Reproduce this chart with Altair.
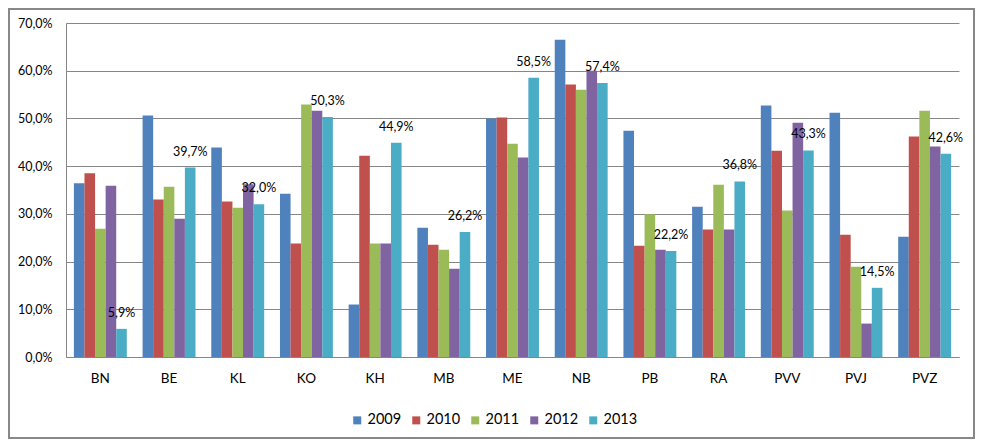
import altair as alt
import pandas as pd

cats = ["BN", "BE", "KL", "KO", "KH", "MB", "ME", "NB", "PB", "RA", "PVV", "PVJ", "PVZ"]
years = ["2009", "2010", "2011", "2012", "2013"]
colors = ["#4F81BD", "#C0504D", "#9BBB59", "#8064A2", "#4BACC6"]

v2009 = [36.4, 50.6, 43.9, 34.2, 11.0, 27.1, 50.0, 66.5, 47.4, 31.5, 52.7, 51.2, 25.2]
v2010 = [38.5, 33.0, 32.6, 23.8, 42.2, 23.5, 50.2, 57.1, 23.3, 26.7, 43.2, 25.6, 46.2]
v2011 = [26.9, 35.7, 31.3, 52.9, 23.8, 22.5, 44.7, 56.0, 29.9, 36.1, 30.7, 18.9, 51.6]
v2012 = [35.9, 29.0, 36.2, 51.6, 23.8, 18.5, 41.8, 60.0, 22.5, 26.7, 49.1, 7.0, 44.1]
v2013 = [5.9, 39.7, 32.0, 50.3, 44.9, 26.2, 58.5, 57.4, 22.2, 36.8, 43.3, 14.5, 42.6]

series = [v2009, v2010, v2011, v2012, v2013]
rows = []
for y, vals in zip(years, series):
    for c, v in zip(cats, vals):
        rows.append({"cat": c, "year": y, "value": v})
df = pd.DataFrame(rows)

W, H = 893, 334
PAD = {"left": 58, "top": 15, "right": 16, "bottom": 82}

x_enc = alt.X("cat:N", sort=cats, title=None,
              scale=alt.Scale(paddingInner=0.23, paddingOuter=0.115),
              axis=alt.Axis(ticks=False, tickSize=0, labelPadding=14, labelAngle=0,
                            labelFontSize=13.5, labelColor="#000000",
                            domainColor="#868686", grid=False))
xoff = alt.XOffset("year:N", sort=years, scale=alt.Scale(paddingInner=0, paddingOuter=0))
y_enc = alt.Y("value:Q", title=None,
              scale=alt.Scale(domain=[0, 70], nice=False),
              axis=alt.Axis(values=[0, 10, 20, 30, 40, 50, 60, 70], ticks=False, tickSize=0,
                            labelPadding=14, labelFontSize=12.5, labelColor="#000000",
                            domainColor="#868686", gridColor="#868686", grid=True,
                            labelExpr="replace(format(datum.value, '.1f'), '.', ',') + '%'"))

bars = alt.Chart(df).mark_bar(size=10.6).encode(
    x=x_enc,
    xOffset=xoff,
    y=y_enc,
    color=alt.Color("year:N", sort=years, title=None,
                    scale=alt.Scale(domain=years, range=colors),
                    legend=alt.Legend(orient="none", direction="horizontal",
                                      legendX=284, legendY=390,
                                      symbolType="square", symbolSize=64,
                                      symbolStrokeWidth=0, labelFontSize=14.5,
                                      labelColor="#000000", columnPadding=7,
                                      labelOffset=3)),
)

labels = alt.Chart(df).transform_filter(
    alt.datum.year == "2013"
).transform_calculate(
    label="replace(format(datum.value, '.1f'), '.', ',') + '%'"
).mark_text(baseline="alphabetic", dy=-12, fontSize=12.5, color="#000000").encode(
    x=alt.X("cat:N", sort=cats),
    xOffset=alt.XOffset("year:N", sort=years),
    y=alt.Y("value:Q"),
    text="label:N",
)

frame = alt.Chart(alt.Data(values=[{}])).mark_rect(
    fill=None, stroke="#888888", strokeWidth=2
).encode(
    x=alt.value(-PAD["left"] + 1), x2=alt.value(W + PAD["right"] - 1),
    y=alt.value(-PAD["top"] + 1), y2=alt.value(H + PAD["bottom"] - 1),
)

chart = alt.layer(bars, labels, frame).properties(
    width=W, height=H,
    autosize=alt.AutoSizeParams(type="none"),
    padding=PAD,
).configure(font="Lato").configure_view(stroke=None)

chart.save("out.html", embed_options={"renderer": "svg", "actions": False})
